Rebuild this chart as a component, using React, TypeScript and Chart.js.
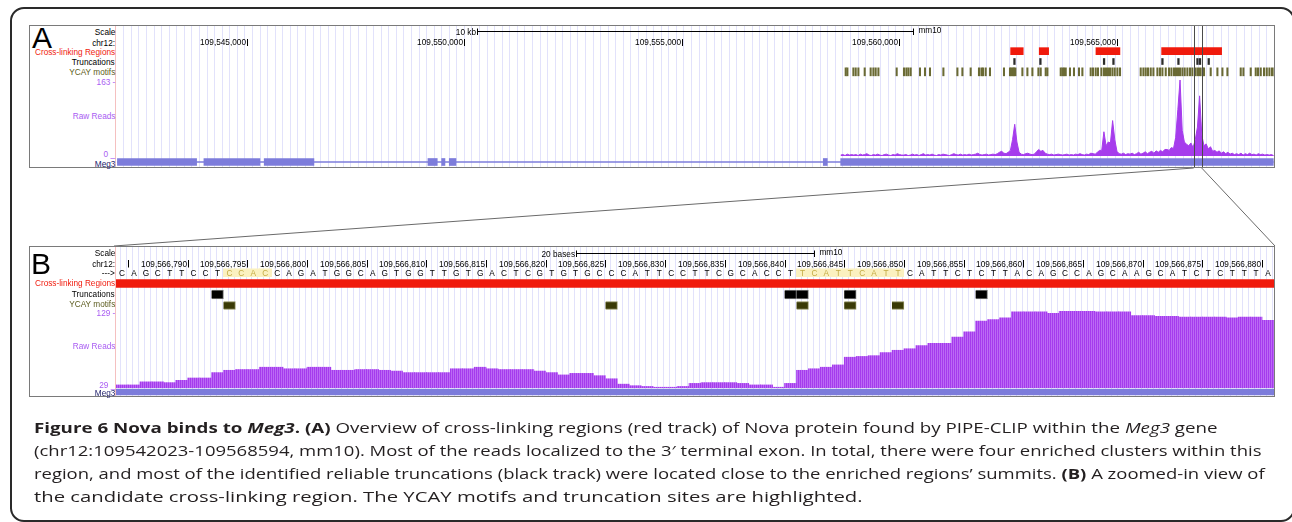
import React, { useEffect, useLayoutEffect, useRef, useState } from 'react';
import { Chart, registerables } from 'chart.js';
Chart.register(...registerables);

// ---------------- DATA ----------------
const A_VIEW = [109541990, 109568610];
const A_TICKS = [109545000, 109550000, 109555000, 109560000, 109565000];
const A_SCALE_BP = 10000;
const A_SCALE_LABEL = '10 kb';
const B_VIEW = [109566784.5, 109566881.5];
const B_TICKS = [109566785, 109566790, 109566795, 109566800, 109566805, 109566810, 109566815, 109566820, 109566825, 109566830, 109566835, 109566840, 109566845, 109566850, 109566855, 109566860, 109566865, 109566870, 109566875, 109566880];
const B_SCALE_BP = 20;
const B_SCALE_LABEL = '20 bases';
const ZOOM_BOX = [109566764, 109566948];

const XL_REGIONS = [[109562556, 109562845], [109563213, 109563429], [109564517, 109565068], [109566027, 109567406]];
const A_TRUNCATIONS = [109562625, 109563222, 109564685, 109564901, 109566027, 109566395, 109566832, 109566891, 109567091];
const A_MOTIFS = [
  109558748, 109558787, 109558925, 109558978, 109559040, 109559185, 109559322, 109559385, 109559437, 109559500,
  109559920, 109560088, 109560143, 109560189, 109560242, 109560456, 109560571, 109560686, 109560994, 109561316,
  109561431, 109561621, 109561812, 109561868, 109561904, 109561966, 109562065, 109562387, 109562525, 109562557,
  109562587, 109562617, 109562649, 109562810, 109562925, 109563040, 109563178, 109563231, 109563346, 109563385,
  109563691, 109563730, 109563767, 109563806, 109563904, 109563996, 109564111, 109564189, 109564380, 109564433,
  109564495, 109564548, 109564626, 109564686, 109564732, 109564778, 109564824, 109564879, 109564932, 109564994,
  109565054, 109565530, 109565592, 109565645, 109565698, 109565760, 109565822, 109565914, 109565973, 109566029,
  109566105, 109566180, 109566236, 109566295, 109566341, 109566387, 109566433, 109566488, 109566541, 109566603,
  109566663, 109566718, 109566794, 109566847, 109566893, 109566948, 109566985, 109567139, 109567293, 109567408,
  109567523, 109567829, 109567891, 109568059, 109568174, 109568227, 109568289, 109568365, 109568427, 109568489,
  109568549, 109568604,
];
const MEG3_SPAN = [109542023, 109568594];
const MEG3_EXONS = [
  [109542023, 109543843], [109544011, 109545299], [109545397, 109546540], [109549161, 109549375],
  [109549476, 109549552], [109549651, 109549805], [109558249, 109558341], [109558649, 109568594],
];

// raw reads, fixed-step wiggle (start, step in bp)
const A_READS_START = 109558650;
const A_READS_STEP = 50;
const A_READS_MAX = 163;
const A_READS = [
  2, 3, 1, 4, 2, 3, 2, 3, 1, 4,
  2, 3, 5, 2, 1, 3, 2, 4, 2, 1,
  3, 4, 2, 1, 3, 2, 5, 3, 2, 2,
  3, 1, 2, 4, 2, 3, 1, 3, 5, 2,
  3, 2, 4, 2, 1, 3, 2, 4, 3, 2,
  1, 3, 5, 3, 2, 4, 2, 3, 2, 4,
  2, 3, 4, 6, 3, 2, 3, 4, 2, 3,
  4, 3, 5, 8, 10, 6, 5, 8, 12, 35,
  68, 30, 8, 4, 3, 5, 6, 4, 3, 4,
  9, 14, 10, 12, 6, 4, 3, 4, 2, 3,
  4, 3, 2, 3, 4, 2, 3, 2, 4, 3,
  5, 3, 2, 4, 3, 6, 5, 4, 8, 12,
  12, 52, 22, 30, 28, 76, 35, 10, 5, 4,
  6, 3, 5, 4, 6, 3, 5, 8, 4, 6,
  9, 5, 8, 10, 6, 11, 8, 12, 9, 14,
  14, 12, 18, 16, 40, 100, 163, 55, 30, 25,
  22, 28, 18, 35, 62, 129, 45, 22, 26, 15,
  20, 10, 12, 8, 11, 6, 9, 5, 8, 4,
  6, 3, 5, 3, 6, 2, 5, 3, 6, 3,
  4, 2, 5, 3, 4, 2, 3, 2, 3, 1,
];

const SEQ_START = 109566785;
const SEQUENCE = 'CAGCTTCCTCCACCAGATGGCAGTGG' + 'TTGTGACTCGTGTGCCCATTCCTTCGCACCT' + 'TCATTCATT' + 'CATTCTCTTACAGCCAGCAAGCATCTCTTTA';
const SEQ_HIGHLIGHTS = [[109566794, 109566797], [109566842, 109566850]];
const B_TRUNCATIONS = [109566793, 109566841, 109566842, 109566846, 109566857];
const B_MOTIFS = [109566794, 109566826, 109566842, 109566846, 109566850];
const B_READS_RANGE = [29, 129];
const B_READS = [
  33, 33, 37, 37, 36, 39, 42, 42, 49, 52,
  53, 53, 56, 56, 54, 54, 56, 56, 52, 52,
  53, 53, 52, 51, 49, 49, 49, 49, 54, 54,
  56, 54, 53, 53, 53, 51, 49, 46, 48, 48,
  45, 41, 34, 32, 31, 30, 30, 31, 35, 36,
  36, 36, 35, 33, 33, 30, 35, 52, 54, 56,
  59, 69, 70, 71, 75, 78, 80, 84, 87, 87,
  95, 102, 116, 118, 120, 128, 128, 128, 126, 129,
  129, 129, 128, 128, 128, 123, 123, 122, 122, 121,
  121, 121, 121, 120, 121, 121, 117,
];

// ---------------- STYLE ----------------
const RED = '#f01a0c';
const PURPLE = 'rgb(166,60,236)';
const LABEL_PURPLE = '#a95cf2';
const GENE = '#7d7cdb';
const OLIVE_TXT = '#5d5d20';
const NAVY = '#24246e';
const GUIDE = '#e2e2fb';
const UFONT = '"Liberation Sans", Arial, Helvetica, sans-serif';
const FSIZE = 9.4;
const SX = 0.88;
const DATA_X = 116;
const DATA_W = 1158;

function squeeze(ctx: any, text: string, x: number, y: number, align: string, color: string) {
  ctx.save();
  ctx.font = `${FSIZE}px ${UFONT}`;
  ctx.fillStyle = color;
  ctx.textAlign = align;
  ctx.textBaseline = 'middle';
  ctx.translate(x, y);
  ctx.scale(SX, 1);
  ctx.fillText(text, 0, 0);
  ctx.restore();
}

const guidePlugin = {
  id: 'guides',
  beforeDatasetsDraw(chart: any, _a: any, o: any) {
    if (!o || !o.step) return;
    const { ctx, scales: { x } } = chart;
    ctx.save();
    ctx.strokeStyle = GUIDE;
    ctx.lineWidth = 1;
    ctx.beginPath();
    for (let v = x.min + o.phase; v <= x.max; v += o.step) {
      const px = Math.round(x.getPixelForValue(v)) + 0.5;
      ctx.moveTo(px, 0);
      ctx.lineTo(px, chart.height);
    }
    ctx.stroke();
    ctx.restore();
  },
};

const hilitePlugin = {
  id: 'hilite',
  afterDatasetsDraw(chart: any) {
    const { ctx, scales: { x } } = chart;
    ctx.save();
    ctx.strokeStyle = '#4a4a4a';
    ctx.lineWidth = 1;
    ctx.beginPath();
    for (const g of ZOOM_BOX) {
      const px = Math.round(x.getPixelForValue(g)) + 0.5;
      ctx.moveTo(px, 0);
      ctx.lineTo(px, chart.height);
    }
    ctx.stroke();
    ctx.restore();
  },
};

function makeRuler(cfg: any) {
  return {
    id: 'ruler',
    afterDatasetsDraw(chart: any) {
      const { ctx, chartArea: a, scales: { x } } = chart;
      ctx.save();
      ctx.strokeStyle = '#000';
      ctx.lineWidth = 1;
      const mid = (x.min + x.max) / 2;
      const x0 = Math.round(x.getPixelForValue(mid - cfg.scaleBp / 2)) + 0.5;
      const x1 = Math.round(x.getPixelForValue(mid + cfg.scaleBp / 2)) + 0.5;
      ctx.beginPath();
      ctx.moveTo(x0, cfg.scaleY); ctx.lineTo(x1, cfg.scaleY);
      ctx.moveTo(x0, cfg.scaleY - 3); ctx.lineTo(x0, cfg.scaleY + 3.5);
      ctx.moveTo(x1, cfg.scaleY - 3); ctx.lineTo(x1, cfg.scaleY + 3.5);
      ctx.stroke();
      squeeze(ctx, cfg.scaleLabel, x0 - 1.5, cfg.scaleY + 0.5, 'right', '#000');
      squeeze(ctx, 'mm10', x1 + 5, cfg.scaleY - 1, 'left', '#000');
      ctx.font = `${FSIZE}px ${UFONT}`;
      for (const t of cfg.ticks) {
        const px = Math.round(x.getPixelForValue(t + cfg.shift)) + 0.5;
        if (px < a.left || px > a.right) continue;
        ctx.beginPath(); ctx.moveTo(px, cfg.tickY0); ctx.lineTo(px, cfg.tickY1); ctx.stroke();
        const label = t.toLocaleString('en-US');
        const w = ctx.measureText(label).width * SX;
        if (px - 1.5 - w >= a.left) squeeze(ctx, label, px - 1.5, cfg.labelY, 'right', '#000');
      }
      if (cfg.seq) {
        for (let i = 0; i < SEQUENCE.length; i++) {
          const p = SEQ_START + i;
          const l = x.getPixelForValue(p - 0.5);
          const r = x.getPixelForValue(p + 0.5);
          const hl = SEQ_HIGHLIGHTS.some(([s, e]) => p >= s && p <= e);
          if (hl) {
            ctx.fillStyle = '#fbf1c0';
            ctx.fillRect(Math.floor(l), cfg.seqY - 5, Math.ceil(r) - Math.floor(l), 8.5);
          }
          squeeze(ctx, SEQUENCE[i], (l + r) / 2, cfg.seqY, 'center', hl ? '#c4ab44' : '#000');
        }
      }
      ctx.restore();
    },
  };
}

function baseOptions(view: number[], yScale: any, extra: any = {}) {
  return {
    animation: false,
    responsive: false,
    maintainAspectRatio: false,
    devicePixelRatio: 1,
    events: [],
    layout: { padding: extra.padding || 0 },
    indexAxis: extra.indexAxis || 'x',
    plugins: {
      legend: { display: false },
      tooltip: { enabled: false },
      guides: extra.guides,
    },
    scales: {
      x: { type: 'linear', min: view[0], max: view[1], display: false, offset: false, grid: { offset: false } },
      y: { ...yScale, display: false },
    },
  };
}

const A_GUIDES = { step: 174, phase: 168 };
const B_GUIDES = { step: 0.5, phase: 0.35 };

function ChartBox({ x, y, w, h, make }: any) {
  const ref = useRef<HTMLCanvasElement>(null);
  useEffect(() => {
    const c = ref.current as HTMLCanvasElement;
    const chart = new Chart(c, make(c));
    return () => chart.destroy();
  }, []);
  return <canvas ref={ref} width={w} height={h} style={{ position: 'absolute', left: x, top: y, width: w, height: h, display: 'block' }} />;
}

// ---------- chart factories ----------
const aRuler = () => ({
  type: 'bar',
  data: { datasets: [] },
  options: baseOptions(A_VIEW, { type: 'linear', min: 0, max: 1 }, { guides: A_GUIDES }),
  plugins: [guidePlugin, makeRuler({ ticks: A_TICKS, shift: 0, scaleBp: A_SCALE_BP, scaleLabel: A_SCALE_LABEL, scaleY: 5.5, tickY0: 13, tickY1: 20, labelY: 16.5 }), hilitePlugin],
});

const aTracks = () => ({
  type: 'bar',
  data: {
    labels: ['xl', 'trunc', 'motif'],
    datasets: [
      { label: 'Cross-linking Regions', data: XL_REGIONS.map((r) => ({ x: r, y: 'xl' })), backgroundColor: RED, barThickness: 7, grouped: false },
      { label: 'Truncations', data: A_TRUNCATIONS.map((p) => ({ x: [p, p], y: 'trunc' })), backgroundColor: '#2b2b2b', barThickness: 6, minBarLength: 1.6, grouped: false },
      { label: 'YCAY motifs', data: A_MOTIFS.map((p) => ({ x: [p, p], y: 'motif' })), backgroundColor: '#6a6a34', barThickness: 8, minBarLength: 1.4, grouped: false },
    ],
  },
  options: baseOptions(A_VIEW, { type: 'category' }, { indexAxis: 'y', guides: A_GUIDES }),
  plugins: [guidePlugin, hilitePlugin],
});

const aReads = () => ({
  type: 'line',
  data: {
    datasets: [{
      label: 'Raw Reads',
      data: A_READS.map((v, i) => ({ x: A_READS_START + i * A_READS_STEP, y: v })),
      borderColor: PURPLE, borderWidth: 1, backgroundColor: PURPLE, fill: 'origin', pointRadius: 0, tension: 0,
    }],
  },
  options: baseOptions(A_VIEW, { type: 'linear', min: 0, max: A_READS_MAX }, { guides: A_GUIDES, padding: { top: 3, bottom: 1 } }),
  plugins: [guidePlugin, hilitePlugin],
});

const geneConfig = (view: number[], guides: any, exonT: number, plugins: any[]) => ({
  type: 'bar',
  data: {
    labels: ['Meg3'],
    datasets: [
      { label: 'intron', data: [{ x: MEG3_SPAN, y: 'Meg3' }], backgroundColor: GENE, barThickness: 1, grouped: false },
      { label: 'exons', data: MEG3_EXONS.map((e) => ({ x: e, y: 'Meg3' })), backgroundColor: GENE, barThickness: exonT, grouped: false },
    ],
  },
  options: baseOptions(view, { type: 'category' }, { indexAxis: 'y', guides }),
  plugins,
});

const bRuler = () => ({
  type: 'bar',
  data: { datasets: [] },
  options: baseOptions(B_VIEW, { type: 'linear', min: 0, max: 1 }, { guides: B_GUIDES }),
  plugins: [guidePlugin, makeRuler({ ticks: B_TICKS, shift: 0.5, scaleBp: B_SCALE_BP, scaleLabel: B_SCALE_LABEL, scaleY: 6.5, tickY0: 13, tickY1: 20.5, labelY: 17, seq: true, seqY: 26.5 })],
});

const bTracks = () => ({
  type: 'bar',
  data: {
    labels: ['xl', 'trunc', 'motif'],
    datasets: [
      { label: 'Cross-linking Regions', data: XL_REGIONS.map((r) => ({ x: r, y: 'xl' })), backgroundColor: RED, barThickness: 8, grouped: false },
      { label: 'Truncations', data: B_TRUNCATIONS.map((p) => ({ x: [p - 0.5, p + 0.5], y: 'trunc' })), backgroundColor: '#000', borderColor: '#7a7a7a', borderWidth: 1, barThickness: 9, grouped: false },
      { label: 'YCAY motifs', data: B_MOTIFS.map((p) => ({ x: [p - 0.5, p + 0.5], y: 'motif' })), backgroundColor: '#3a3a06', borderColor: '#8d8d5a', borderWidth: 1, barThickness: 8, grouped: false },
    ],
  },
  options: baseOptions(B_VIEW, { type: 'category' }, { indexAxis: 'y', guides: B_GUIDES }),
  plugins: [guidePlugin],
});

const bReads = (c: HTMLCanvasElement) => {
  const pc = document.createElement('canvas');
  pc.width = 2; pc.height = 1;
  const g = pc.getContext('2d') as CanvasRenderingContext2D;
  g.fillStyle = '#a53bed'; g.fillRect(0, 0, 1, 1);
  g.fillStyle = '#bb6af4'; g.fillRect(1, 0, 1, 1);
  const pattern = (c.getContext('2d') as CanvasRenderingContext2D).createPattern(pc, 'repeat');
  return {
    type: 'bar',
    data: {
      datasets: [{
        label: 'Raw Reads',
        data: B_READS.map((v, i) => ({ x: SEQ_START + i, y: v })),
        backgroundColor: pattern, borderWidth: 0, barPercentage: 1, categoryPercentage: 1,
      }],
    },
    options: baseOptions(B_VIEW, { type: 'linear', min: B_READS_RANGE[0], max: B_READS_RANGE[1] }, { guides: B_GUIDES }),
    plugins: [guidePlugin],
  };
};

// ---------- layout helpers ----------
function Lbl({ y, text, color = '#000' }: any) {
  return (
    <div style={{ position: 'absolute', right: 1292 - 115, top: y - 6, height: 12, lineHeight: '12px', fontFamily: UFONT, fontSize: FSIZE, color, whiteSpace: 'nowrap', transform: `scaleX(${SX})`, transformOrigin: 'right center' }}>{text}</div>
  );
}

function CaptionLine({ top, right, children }: any) {
  const ref = useRef<HTMLDivElement>(null);
  const [s, setS] = useState(1);
  useLayoutEffect(() => {
    const w = (ref.current as HTMLDivElement).offsetWidth;
    if (w) setS((right - 34) / w);
  }, []);
  return (
    <div ref={ref} style={{ position: 'absolute', left: 34, top, whiteSpace: 'nowrap', fontFamily: '"Open Sans", sans-serif', fontSize: 14.5, lineHeight: '23px', color: '#231f20', transform: `scaleX(${s})`, transformOrigin: 'left top' }}>{children}</div>
  );
}

const aPx = (g: number) => DATA_X + ((g - A_VIEW[0]) / (A_VIEW[1] - A_VIEW[0])) * DATA_W;

export default function App() {
  const zl = aPx(ZOOM_BOX[0]);
  const zr = aPx(ZOOM_BOX[1]);
  return (
    <div style={{ position: 'absolute', left: 0, top: 0, width: 1292, height: 522, overflow: 'hidden', background: '#fff' }}>
      <div style={{ position: 'absolute', left: 10, top: 7, width: 1285, height: 515, border: '2px solid #2a2a2a', borderRadius: 14, boxSizing: 'border-box' }} />

      {/* Panel A */}
      <div style={{ position: 'absolute', left: 29, top: 25, width: 1246, height: 143, border: '1px solid #7a7a7a', boxSizing: 'border-box' }} />
      <div style={{ position: 'absolute', left: 115, top: 26, width: 1, height: 141, background: '#f5c0c0' }} />
      <ChartBox x={DATA_X} y={26} w={DATA_W} h={20} make={aRuler} />
      <ChartBox x={DATA_X} y={46} w={DATA_W} h={31} make={aTracks} />
      <ChartBox x={DATA_X} y={77} w={DATA_W} h={80} make={aReads} />
      <ChartBox x={DATA_X} y={157} w={DATA_W} h={10} make={() => geneConfig(A_VIEW, A_GUIDES, 7, [guidePlugin, hilitePlugin])} />
      <div style={{ position: 'absolute', left: 32, top: 23, fontFamily: UFONT, fontSize: 30, lineHeight: '30px', color: '#000' }}>A</div>
      <Lbl y={32} text="Scale" />
      <Lbl y={42.5} text="chr12:" />
      <Lbl y={52} text="Cross-linking Regions" color={RED} />
      <Lbl y={62} text="Truncations" />
      <Lbl y={72} text="YCAY motifs" color={OLIVE_TXT} />
      <Lbl y={82} text="163 -" color={LABEL_PURPLE} />
      <Lbl y={116} text="Raw Reads" color={LABEL_PURPLE} />
      <Lbl y={153.5} text="0 _" color={LABEL_PURPLE} />
      <Lbl y={163.5} text="Meg3" color={NAVY} />

      {/* connectors */}
      <svg width={1292} height={522} style={{ position: 'absolute', left: 0, top: 0 }}>
        <line x1={zl} y1={168} x2={114} y2={246} stroke="#6a6a6a" strokeWidth={1} />
        <line x1={zr} y1={168} x2={1275} y2={246} stroke="#6a6a6a" strokeWidth={1} />
      </svg>

      {/* Panel B */}
      <div style={{ position: 'absolute', left: 29, top: 246, width: 1246, height: 151, border: '1px solid #7a7a7a', boxSizing: 'border-box', background: 'transparent' }} />
      <div style={{ position: 'absolute', left: 115, top: 247, width: 1, height: 149, background: '#f5c0c0' }} />
      <ChartBox x={DATA_X} y={247} w={DATA_W} h={31} make={bRuler} />
      <ChartBox x={DATA_X} y={278} w={DATA_W} h={33} make={bTracks} />
      <ChartBox x={DATA_X} y={311} w={DATA_W} h={77} make={bReads} />
      <ChartBox x={DATA_X} y={388} w={DATA_W} h={8} make={() => geneConfig(B_VIEW, B_GUIDES, 6, [guidePlugin])} />
      <div style={{ position: 'absolute', left: 31, top: 249, fontFamily: UFONT, fontSize: 30, lineHeight: '30px', color: '#000' }}>B</div>
      <Lbl y={253.3} text="Scale" />
      <Lbl y={264} text="chr12:" />
      <Lbl y={273.3} text="--->" />
      <Lbl y={283.3} text="Cross-linking Regions" color={RED} />
      <Lbl y={293.5} text="Truncations" />
      <Lbl y={303.5} text="YCAY motifs" color={OLIVE_TXT} />
      <Lbl y={313} text="129 -" color={LABEL_PURPLE} />
      <Lbl y={346} text="Raw Reads" color={LABEL_PURPLE} />
      <Lbl y={385} text="29 _" color={LABEL_PURPLE} />
      <Lbl y={393} text="Meg3" color={NAVY} />

      {/* Caption */}
      <CaptionLine top={416} right={1217}>
        <b>Figure 6 Nova binds to <i>Meg3</i>.</b> <b>(A)</b> Overview of cross-linking regions (red track) of Nova protein found by PIPE-CLIP within the <i>Meg3</i> gene
      </CaptionLine>
      <CaptionLine top={439} right={1262}>
        (chr12:109542023-109568594, mm10). Most of the reads localized to the 3′ terminal exon. In total, there were four enriched clusters within this
      </CaptionLine>
      <CaptionLine top={462} right={1265}>
        region, and most of the identified reliable truncations (black track) were located close to the enriched regions’ summits. <b>(B)</b> A zoomed-in view of
      </CaptionLine>
      <CaptionLine top={485} right={862}>
        the candidate cross-linking region. The YCAY motifs and truncation sites are highlighted.
      </CaptionLine>
    </div>
  );
}
